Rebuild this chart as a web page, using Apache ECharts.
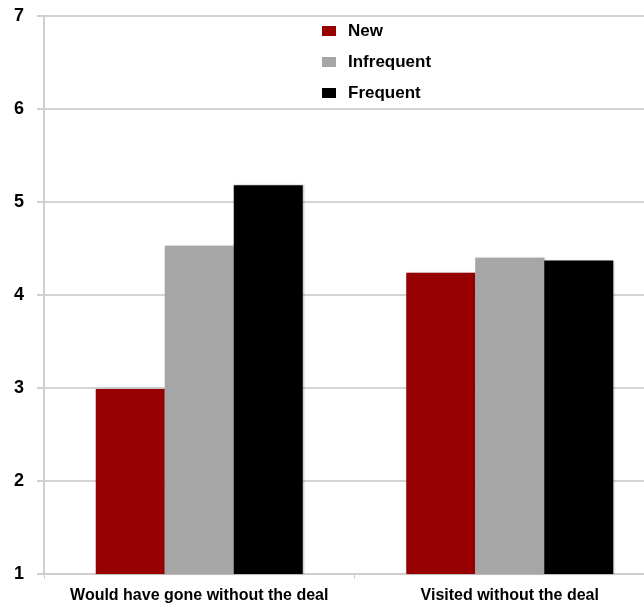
<!DOCTYPE html>
<html>
<head>
<meta charset="utf-8">
<script src="https://cdn.jsdelivr.net/npm/echarts@6/dist/echarts.min.js"></script>
<style>
  html, body { margin: 0; padding: 0; background: #fff; overflow: hidden; }
  /* chart is a bit wider than the window: the right edge is cut off in the original */
  #chart { width: 665px; height: 608px; }
</style>
</head>
<body>
<div id="chart"></div>
<script>
// data
const categories = ['Would have gone without the deal', 'Visited without the deal'];
const seriesNames = ['New', 'Infrequent', 'Frequent'];
const newValues = [2.99, 4.24];
const infrequentValues = [4.53, 4.40];
const frequentValues = [5.18, 4.37];
const yTicks = [1, 2, 3, 4, 5, 6, 7];

const colors = ['#960000', '#a6a6a6', '#000000'];
const values = [newValues, infrequentValues, frequentValues];

const myChart = echarts.init(document.getElementById('chart'));

const option = {
    animation: false,
    grid: {
        left: 44,
        top: 16,
        right: 0,
        bottom: 34
    },
    legend: {
        orient: 'vertical',
        left: 317,
        top: 16,
        itemWidth: 14,
        itemHeight: 10,
        itemGap: 11,
        icon: 'rect',
        data: seriesNames,
        textStyle: {
            fontFamily: 'Liberation Sans',
            fontWeight: 'bold',
            fontSize: 17,
            lineHeight: 20,
            color: '#000',
            padding: [0, 0, 0, 7]
        }
    },
    xAxis: {
        type: 'category',
        data: categories,
        axisLine: { lineStyle: { color: '#cfcfcf', width: 2 } },
        axisTick: { show: true, length: 5, lineStyle: { color: '#cfcfcf' } },
        axisLabel: {
            interval: 0,
            margin: 14,
            fontFamily: 'Liberation Sans',
            fontWeight: 'bold',
            fontSize: 16,
            color: '#000'
        }
    },
    yAxis: {
        type: 'value',
        min: yTicks[0],
        max: yTicks[yTicks.length - 1],
        interval: 1,
        axisLine: { show: true, lineStyle: { color: '#cfcfcf', width: 2 } },
        axisTick: { show: true, length: 7, lineStyle: { color: '#cfcfcf', width: 2 } },
        splitLine: { lineStyle: { color: '#d4d4d4', width: 2 } },
        axisLabel: {
            margin: 20,
            padding: [5, 0, 0, 0],
            fontFamily: 'Liberation Sans',
            fontWeight: 'bold',
            fontSize: 18,
            color: '#000'
        }
    },
    series: seriesNames.map((name, i) => ({
        name: name,
        type: 'bar',
        data: values[i],
        barWidth: 69,
        barGap: '0%',
        itemStyle: {
            color: colors[i],
            shadowColor: 'rgba(0,0,0,0.25)',
            shadowBlur: 2,
            shadowOffsetX: 1
        }
    }))
};

myChart.setOption(option);
</script>
</body>
</html>
